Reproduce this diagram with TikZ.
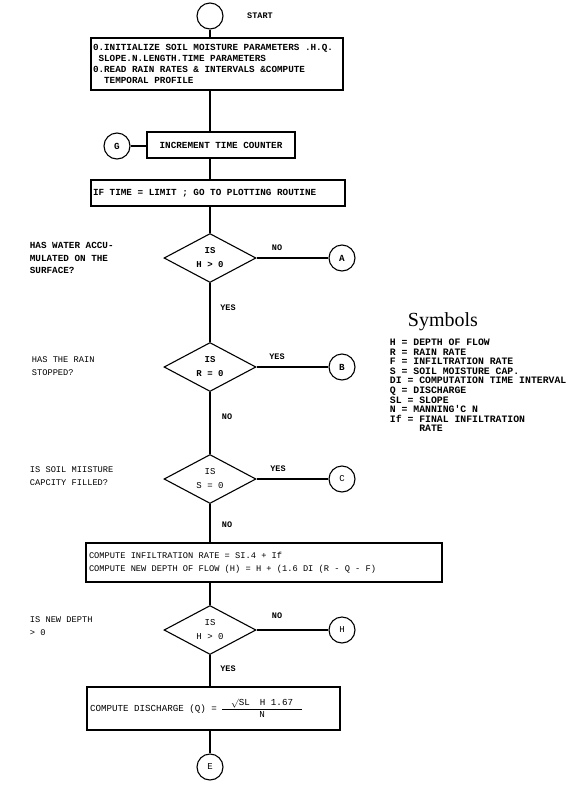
\documentclass[tikz,border=0pt]{standalone}
\usepackage{fontspec}
\setmonofont{Liberation Mono}
\newfontfamily\symbolsfont{Liberation Serif}
\usetikzlibrary{shapes.geometric}
\newcommand\fixedspaces{\spaceskip=0pt\relax\xspaceskip=0pt\relax}

\begin{document}
\begin{tikzpicture}[x=1pt,y=-1pt,line width=1.1pt,
			every node/.style={font=\ttfamily\bfseries\fontsize{9.3}{11}\selectfont},
			process/.style={draw,rectangle,inner sep=2pt},
			decision/.style={draw,diamond,aspect=2,inner sep=0pt,minimum width=92pt,minimum height=49pt,align=center},
			connector/.style={draw,circle,minimum size=26pt,inner sep=0pt},
			question/.style={anchor=west,align=left},
			answer/.style={font=\ttfamily\bfseries\fontsize{8.5}{10}\selectfont},
			lighttext/.style={font=\ttfamily\fontsize{8.7}{12.5}\selectfont}]
			\useasboundingbox (0,0) rectangle (572,788);
			
			% main column
			\node[connector] (start) at (210,16) {};
			\node[answer] (starttext) at (260,16) {START};
			\node[process,minimum width=252pt,minimum height=52pt,text width=248pt,align=left,
			font=\ttfamily\bfseries\fontsize{9.3}{11}\selectfont] (init) at (217,64)
			{\fixedspaces 0.INITIALIZE SOIL MOISTURE PARAMETERS .H.Q.\\\hphantom{0}SLOPE.N.LENGTH.TIME PARAMETERS\\0.READ RAIN RATES \& INTERVALS \&COMPUTE\\\hphantom{00}TEMPORAL PROFILE};
			\node[process,minimum width=148pt,minimum height=26pt] (incr) at (221,145) {INCREMENT TIME COUNTER};
			\node[connector] (conG) at (117,146) {G};
			\node[process,minimum width=254pt,minimum height=26pt,text width=250pt,align=left] (limit) at (218,193)
			{\fixedspaces IF TIME = LIMIT ; GO TO PLOTTING ROUTINE};
			
			\node[decision,font=\ttfamily\bfseries\fontsize{9}{14}\selectfont] (dia1) at (210,258) {IS\\H > 0};
			\node[decision,font=\ttfamily\bfseries\fontsize{9}{14}\selectfont] (dia2) at (210,367) {IS\\R = 0};
			\node[decision,font=\ttfamily\fontsize{9}{14}\selectfont] (dia3) at (210,479) {IS\\S = 0};
			
			\node[process,minimum width=356pt,minimum height=39pt,text width=350pt,align=left,lighttext] (infil) at (264,562.5)
			{\fixedspaces COMPUTE INFILTRATION RATE = SI.4 + If\\COMPUTE NEW DEPTH OF FLOW (H) = H + (1.6 DI (R - Q - F)};
			
			\node[decision,font=\ttfamily\fontsize{9}{14}\selectfont] (dia4) at (210,630) {IS\\H > 0};
			\node[process,minimum width=253pt,minimum height=43pt,text width=247pt,align=left,
			font=\ttfamily\fontsize{9.2}{11}\selectfont] (disch) at (213.5,708.5)
			{\fixedspaces COMPUTE DISCHARGE (Q) =\hspace{4pt}$\displaystyle\frac{\hbox{\ttfamily\hspace{9pt}$\surd$SL\hspace{10pt}H 1.67\hspace{9pt}}}{\hbox{\ttfamily N}}$};
			\node[connector,font=\ttfamily\fontsize{9}{11}\selectfont] (conE) at (210,767) {E};
			
			% exits
			\node[connector] (conA) at (342,258) {A};
			\node[connector] (conB) at (342,367) {B};
			\node[connector,font=\ttfamily\fontsize{9}{11}\selectfont] (conC) at (342,479) {C};
			\node[connector,font=\ttfamily\fontsize{9}{11}\selectfont] (conH) at (342,630) {H};
			
			% questions
			\node[question,font=\ttfamily\bfseries\fontsize{9.3}{12.5}\selectfont] (q1) at (26,258) {HAS WATER ACCU-\\MULATED ON THE\\SURFACE?};
			\node[question,lighttext] (q2) at (28,366) {HAS THE RAIN\\STOPPED?};
			\node[question,lighttext] (q3) at (26,476) {IS SOIL MIISTURE\\CAPCITY FILLED?};
			\node[question,lighttext] (q4) at (26,626) {IS NEW DEPTH\\> 0};
			
			% yes / no
			\node[answer] (no1) at (277,248) {NO};
			\node[answer] (yes1) at (228,308) {YES};
			\node[answer] (yes2) at (277,357) {YES};
			\node[answer] (no2) at (227,417) {NO};
			\node[answer] (yes3) at (278,469) {YES};
			\node[answer] (no3) at (227,525) {NO};
			\node[answer] (no4) at (277,616) {NO};
			\node[answer] (yes4) at (228,669) {YES};
			
			% symbols
			\node[font=\symbolsfont\fontsize{20}{22}\selectfont] (symtitle) at (443,322) {Symbols};
			\node[anchor=north west,align=left,font=\ttfamily\bfseries\fontsize{9.8}{9.6}\selectfont] (symlist) at (386,335)
			{H = DEPTH OF FLOW\\R = RAIN RATE\\F = INFILTRATION RATE\\S = SOIL MOISTURE CAP.\\DI = COMPUTATION TIME INTERVAL\\Q = DISCHARGE\\SL = SLOPE\\N = MANNING'C N\\If = FINAL INFILTRATION\\\hphantom{If = }RATE};
			
			% connectors
			\draw (start) -- (start |- init.north);
			\draw (init.south -| start) -- (incr.north -| start);
			\draw (conG.east) -- (conG.east -| incr.west);
			\draw (incr.south -| start) -- (limit.north -| start);
			\draw (limit.south -| dia1) -- (dia1.north);
			\draw (dia1) -- (dia2);
			\draw (dia2) -- (dia3);
			\draw (dia3.south) -- (dia3.south |- infil.north);
			\draw (infil.south -| dia4) -- (dia4.north);
			\draw (dia4.south) -- (dia4.south |- disch.north);
			\draw (disch.south -| conE) -- (conE);
			\foreach \d/\c in {dia1/conA,dia2/conB,dia3/conC,dia4/conH}
			\draw (\d.east) -- (\c);
\end{tikzpicture}
\end{document}
